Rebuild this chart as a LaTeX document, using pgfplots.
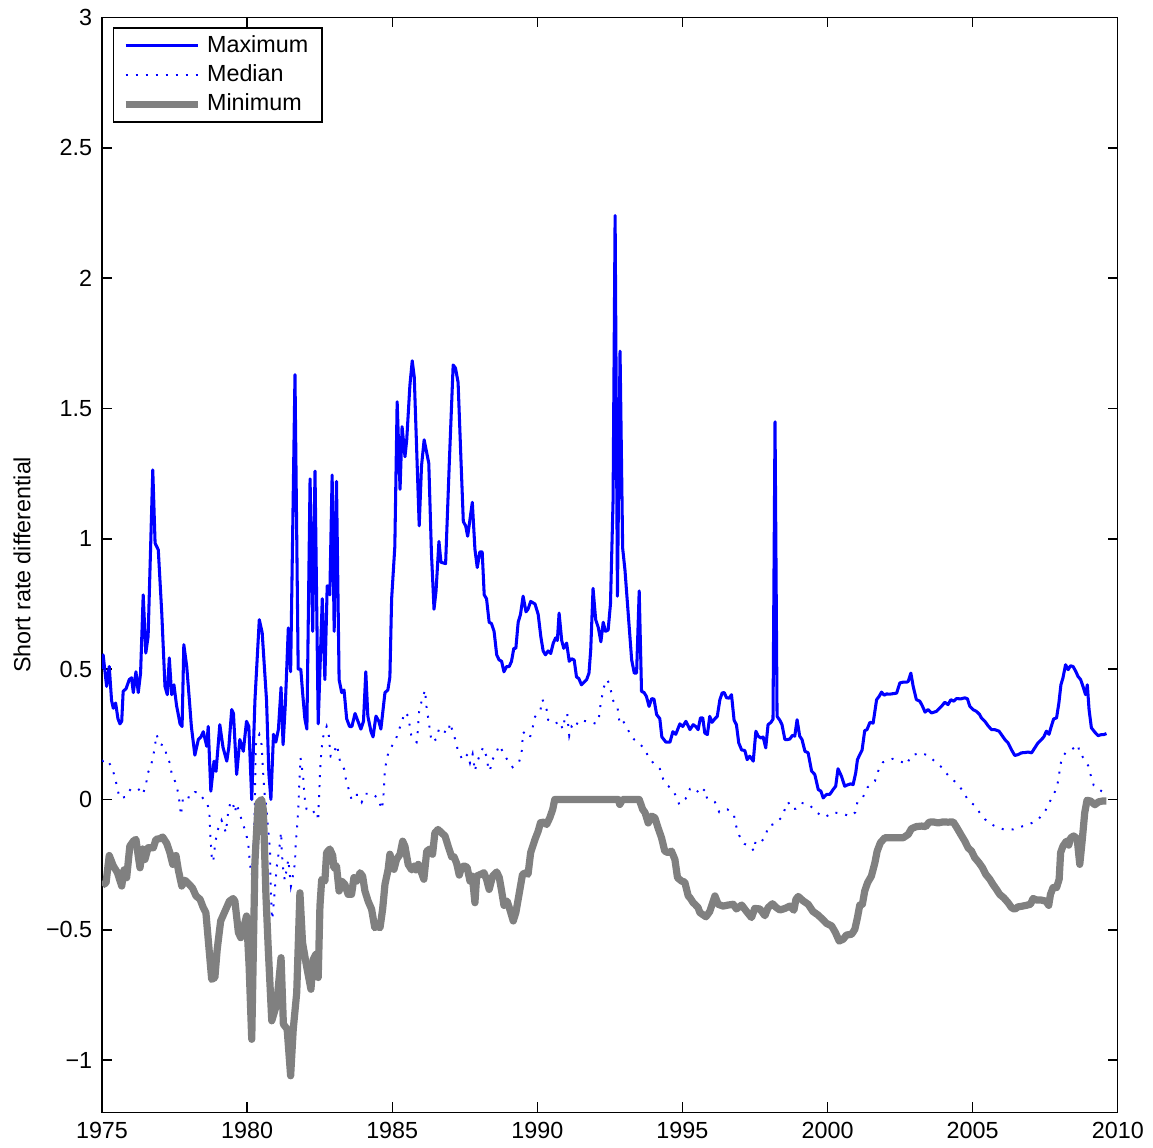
\documentclass[border=0pt]{standalone}
\usepackage{fontspec}
\setmainfont{Liberation Sans}
\usepackage{pgfplots}
\pgfplotsset{compat=1.18}
\definecolor{mblue}{RGB}{0,0,255}
\definecolor{mgray}{RGB}{128,128,128}
\newcommand{\fsz}{\fontsize{8.4}{10}\selectfont}
\begin{document}
\begin{tikzpicture}
\path (-36.72pt,-12.6pt) rectangle (378.36pt,400.32pt);
\begin{axis}[
 at={(0pt,0pt)}, anchor=south west,
 scale only axis, width=365.76pt, height=394.2pt,
 xmin=1975, xmax=2010, ymin=-1.2, ymax=3,
 xtick={1975,1980,1985,1990,1995,2000,2005,2010},
 xticklabels={1975,1980,1985,1990,1995,2000,2005,2010},
 ytick={-1,-0.5,0,0.5,1,1.5,2,2.5,3},
 yticklabels={−1,−0.5,0,0.5,1,1.5,2,2.5,3},
 tick align=inside, tick pos=both,
 major tick length=3.6pt,
 axis line style={line width=0.5pt},
 every tick/.style={black, line width=0.5pt},
 tick label style={font=\fsz},
 ylabel={Short rate differential},
 ylabel style={font=\fsz, at={(axis description cs:-0.0787,0.5)}, anchor=center},
 legend style={at={(axis description cs:0,1)}, anchor=north west, xshift=4pt, yshift=-3.6pt,
   draw=black, line width=0.5pt, fill=white, font=\fsz, inner xsep=3pt, inner ysep=0.6pt,
   row sep=-1.1pt, cells={anchor=west}},
 legend image code/.code={\draw[#1] (0pt,0pt) -- (26pt,0pt);},
]
\addplot[mblue, line width=1.1pt, line join=round] coordinates {
(1975.00,0.50) (1975.04,0.555) (1975.16,0.434) (1975.25,0.51) (1975.33,0.38) (1975.39,0.35) (1975.47,0.37) (1975.55,0.31) (1975.62,0.29) (1975.68,0.30) (1975.73,0.415) (1975.83,0.425) (1975.94,0.46) (1976.02,0.467) (1976.08,0.41) (1976.17,0.49) (1976.25,0.41) (1976.33,0.485) (1976.42,0.785) (1976.51,0.562) (1976.59,0.626) (1976.75,1.264) (1976.83,0.983) (1976.94,0.958) (1977.06,0.715) (1977.17,0.434) (1977.25,0.402) (1977.32,0.543) (1977.40,0.402) (1977.48,0.44) (1977.57,0.36) (1977.64,0.32) (1977.69,0.29) (1977.76,0.28)
(1977.82,0.594) (1977.92,0.51) (1978.01,0.383) (1978.08,0.28) (1978.20,0.17) (1978.32,0.23) (1978.41,0.24) (1978.49,0.26) (1978.61,0.204) (1978.66,0.28) (1978.75,0.032) (1978.86,0.147) (1978.93,0.108) (1979.06,0.287) (1979.17,0.2) (1979.30,0.147) (1979.37,0.2) (1979.47,0.345) (1979.53,0.33) (1979.64,0.096) (1979.75,0.23) (1979.87,0.185) (1979.98,0.30) (1980.06,0.28) (1980.16,0.0) (1980.27,0.38) (1980.42,0.69) (1980.52,0.64) (1980.67,0.38) (1980.75,0.10) (1980.82,0.0) (1980.91,0.25) (1980.99,0.22) (1981.08,0.27) (1981.17,0.43) (1981.24,0.21) (1981.32,0.37) (1981.42,0.658) (1981.50,0.49) (1981.65,1.63) (1981.76,0.50) (1981.85,0.50) (1981.92,0.40) (1981.99,0.31) (1982.06,0.27) (1982.17,1.23) (1982.26,0.645) (1982.34,1.26) (1982.45,0.29) (1982.59,0.77) (1982.68,0.46) (1982.76,0.82) (1982.85,0.785) (1982.93,1.245) (1983.00,0.645) (1983.08,1.22) (1983.17,0.46) (1983.26,0.41) (1983.34,0.42) (1983.43,0.31) (1983.53,0.28) (1983.61,0.28) (1983.72,0.33) (1983.82,0.30) (1983.92,0.27) (1984.01,0.30) (1984.09,0.49) (1984.16,0.32) (1984.27,0.26) (1984.34,0.24) (1984.44,0.32) (1984.54,0.30) (1984.61,0.27) (1984.75,0.41) (1984.85,0.42) (1984.92,0.47) (1984.98,0.77) (1985.09,0.97) (1985.17,1.526) (1985.27,1.19) (1985.34,1.43) (1985.44,1.315) (1985.50,1.38) (1985.61,1.59) (1985.69,1.683) (1985.76,1.62) (1985.93,1.05) (1986.01,1.28) (1986.10,1.38) (1986.26,1.29) (1986.35,0.95) (1986.44,0.73) (1986.51,0.80) (1986.61,0.99) (1986.68,0.91) (1986.84,0.905) (1986.97,1.30) (1987.10,1.667) (1987.18,1.655) (1987.27,1.60) (1987.37,1.30) (1987.45,1.066) (1987.53,1.05) (1987.60,1.01) (1987.76,1.14) (1987.85,0.96) (1987.93,0.89) (1988.02,0.95) (1988.10,0.95) (1988.17,0.785) (1988.25,0.77) (1988.34,0.68) (1988.42,0.675) (1988.51,0.645) (1988.60,0.555) (1988.68,0.536) (1988.77,0.53) (1988.85,0.49) (1988.94,0.51) (1989.03,0.51) (1989.11,0.53) (1989.19,0.58) (1989.26,0.58) (1989.34,0.68) (1989.42,0.71) (1989.51,0.78) (1989.61,0.72) (1989.68,0.73) (1989.77,0.76) (1989.92,0.75) (1990.03,0.71) (1990.12,0.625) (1990.20,0.57) (1990.28,0.555) (1990.37,0.57) (1990.46,0.56) (1990.55,0.60) (1990.63,0.62) (1990.69,0.61) (1990.75,0.715) (1990.84,0.61) (1990.91,0.58) (1991.01,0.60) (1991.10,0.53) (1991.18,0.54) (1991.27,0.535) (1991.35,0.47) (1991.43,0.464) (1991.52,0.44) (1991.61,0.45) (1991.70,0.46) (1991.78,0.485) (1991.84,0.575) (1991.92,0.81) (1992.01,0.69) (1992.10,0.66) (1992.19,0.605) (1992.27,0.68) (1992.35,0.645) (1992.44,0.65) (1992.52,0.75) (1992.61,1.15) (1992.68,2.24) (1992.76,0.78) (1992.85,1.72) (1992.94,0.964) (1993.02,0.88) (1993.13,0.715) (1993.25,0.536) (1993.34,0.485) (1993.42,0.485) (1993.51,0.80) (1993.59,0.415) (1993.68,0.41) (1993.76,0.395) (1993.85,0.357) (1993.94,0.387) (1994.02,0.385) (1994.11,0.326) (1994.22,0.31) (1994.29,0.24) (1994.43,0.22) (1994.57,0.22) (1994.67,0.26) (1994.77,0.25) (1994.91,0.29) (1995.01,0.28) (1995.12,0.30) (1995.26,0.268) (1995.37,0.287) (1995.46,0.28) (1995.54,0.268) (1995.62,0.313) (1995.70,0.313) (1995.77,0.255) (1995.86,0.249) (1995.94,0.319) (1996.02,0.296) (1996.12,0.31) (1996.20,0.319) (1996.29,0.383) (1996.37,0.409) (1996.44,0.41) (1996.52,0.39) (1996.61,0.389) (1996.69,0.402) (1996.78,0.304) (1996.86,0.287) (1996.94,0.217) (1997.04,0.19) (1997.15,0.188) (1997.23,0.153) (1997.32,0.166) (1997.44,0.147) (1997.53,0.262) (1997.61,0.243) (1997.70,0.236) (1997.78,0.24) (1997.87,0.198) (1997.95,0.287) (1998.05,0.296) (1998.12,0.308) (1998.19,1.449) (1998.26,0.319) (1998.36,0.303) (1998.43,0.287) (1998.53,0.23) (1998.62,0.23) (1998.70,0.232) (1998.79,0.246) (1998.87,0.243) (1998.95,0.306) (1999.04,0.243) (1999.12,0.23) (1999.22,0.185) (1999.33,0.179) (1999.45,0.109) (1999.56,0.096) (1999.68,0.038) (1999.77,0.032) (1999.85,0.006) (1999.96,0.019) (2000.08,0.02) (2000.19,0.038) (2000.28,0.051) (2000.36,0.118) (2000.48,0.089) (2000.59,0.051) (2000.71,0.057) (2000.80,0.06) (2000.88,0.057) (2000.97,0.102) (2001.03,0.153) (2001.11,0.172) (2001.19,0.19) (2001.28,0.264) (2001.36,0.268) (2001.46,0.296) (2001.57,0.293) (2001.69,0.383) (2001.78,0.396) (2001.86,0.412) (2001.95,0.40) (2002.03,0.405) (2002.14,0.404) (2002.26,0.406) (2002.38,0.408) (2002.49,0.447) (2002.60,0.45) (2002.72,0.45) (2002.78,0.453) (2002.87,0.485) (2002.95,0.434) (2003.06,0.383) (2003.18,0.377) (2003.27,0.358) (2003.36,0.335) (2003.46,0.345) (2003.58,0.332) (2003.75,0.338) (2003.93,0.358) (2004.04,0.373) (2004.15,0.364) (2004.25,0.383) (2004.35,0.377) (2004.44,0.387) (2004.59,0.386) (2004.73,0.39) (2004.82,0.386) (2004.90,0.358) (2005.01,0.345) (2005.13,0.338) (2005.24,0.326) (2005.30,0.313) (2005.42,0.30) (2005.53,0.283) (2005.65,0.268) (2005.76,0.268) (2005.91,0.262) (2005.99,0.249) (2006.11,0.23) (2006.22,0.217) (2006.34,0.19) (2006.45,0.169) (2006.56,0.172) (2006.68,0.179) (2006.80,0.18) (2006.91,0.182) (2007.03,0.179) (2007.14,0.198) (2007.25,0.217) (2007.37,0.23) (2007.45,0.24) (2007.54,0.262) (2007.63,0.25) (2007.71,0.281) (2007.79,0.309) (2007.89,0.313) (2007.97,0.37) (2008.04,0.44) (2008.11,0.466) (2008.20,0.517) (2008.29,0.498) (2008.37,0.513) (2008.46,0.51) (2008.55,0.492) (2008.63,0.472) (2008.72,0.46) (2008.80,0.434) (2008.89,0.402) (2008.95,0.44) (2009.01,0.345) (2009.09,0.275) (2009.21,0.258) (2009.32,0.245) (2009.44,0.249) (2009.52,0.249) (2009.61,0.253)
};
\addlegendentry{Maximum}
\addplot[mblue, line width=0.7pt, dash pattern=on 0.7pt off 2.9pt] coordinates {
(1975.00,0.15) (1975.04,0.147) (1975.18,0.153) (1975.35,0.121) (1975.45,0.083) (1975.53,0.045) (1975.60,0.006) (1975.73,0.008) (1975.83,0.01) (1975.99,0.041) (1976.25,0.041) (1976.40,0.019) (1976.52,0.055) (1976.56,0.096) (1976.69,0.13) (1976.77,0.169) (1976.83,0.21) (1976.88,0.249) (1977.00,0.213) (1977.17,0.204) (1977.23,0.163) (1977.34,0.14) (1977.40,0.10) (1977.55,0.061) (1977.63,0.022) (1977.69,-0.026) (1977.72,-0.061) (1977.80,0.013) (1977.92,0.01) (1978.06,0.006) (1978.20,0.028) (1978.32,0.028) (1978.49,0.003) (1978.62,-0.01) (1978.70,-0.05) (1978.72,-0.10) (1978.74,-0.15) (1978.78,-0.217) (1978.83,-0.24) (1978.89,-0.18) (1978.95,-0.134) (1979.01,-0.11) (1979.06,-0.096) (1979.12,-0.08) (1979.27,-0.127) (1979.35,-0.045) (1979.44,-0.006) (1979.52,-0.02) (1979.58,-0.05) (1979.64,-0.017) (1979.85,-0.092) (1979.96,-0.128) (1980.04,-0.17) (1980.10,-0.249) (1980.16,-0.291) (1980.21,-0.208) (1980.25,-0.1) (1980.27,0.0) (1980.29,0.14) (1980.31,0.223) (1980.42,0.249) (1980.50,0.21) (1980.56,0.09) (1980.61,0.01) (1980.67,-0.032) (1980.72,-0.109) (1980.79,-0.19) (1980.80,-0.27) (1980.82,-0.352) (1980.85,-0.44) (1980.87,-0.46) (1980.96,-0.34) (1981.02,-0.26) (1981.13,-0.17) (1981.17,-0.125) (1981.20,-0.21) (1981.25,-0.278) (1981.30,-0.31) (1981.36,-0.27) (1981.42,-0.23) (1981.51,-0.332) (1981.59,-0.286) (1981.65,-0.243) (1981.68,-0.16) (1981.71,-0.125) (1981.76,-0.042) (1981.79,0.038) (1981.82,0.115) (1981.84,0.16) (1981.93,0.09) (1981.96,0.041) (1981.99,0.0) (1982.05,-0.038) (1982.22,-0.054) (1982.40,-0.04) (1982.45,-0.083) (1982.47,-0.01) (1982.49,0.038) (1982.52,0.12) (1982.54,0.156) (1982.57,0.198) (1982.62,0.24) (1982.74,0.28) (1982.82,0.243) (1982.85,0.2) (1982.88,0.165) (1982.97,0.169) (1983.08,0.21) (1983.13,0.19) (1983.20,0.147) (1983.35,0.115) (1983.41,0.074) (1983.51,0.036) (1983.60,0.0) (1983.68,0.018) (1983.83,0.018) (1983.95,-0.01) (1984.06,0.022) (1984.33,0.022) (1984.52,0.003) (1984.64,-0.038) (1984.69,0.0) (1984.71,0.038) (1984.75,0.115) (1984.81,0.153) (1984.89,0.19) (1985.09,0.22) (1985.21,0.258) (1985.32,0.296) (1985.44,0.335) (1985.55,0.32) (1985.67,0.236) (1985.84,0.22) (1985.88,0.26) (1985.93,0.345) (1986.13,0.42) (1986.19,0.345) (1986.26,0.30) (1986.30,0.262) (1986.36,0.22) (1986.53,0.232) (1986.62,0.275) (1986.76,0.262) (1986.93,0.255) (1986.99,0.294) (1987.18,0.227) (1987.27,0.185) (1987.43,0.151) (1987.60,0.174) (1987.68,0.14) (1987.77,0.174) (1987.85,0.109) (1987.91,0.14) (1988.02,0.17) (1988.13,0.2) (1988.25,0.165) (1988.31,0.121) (1988.37,0.109) (1988.42,0.146) (1988.57,0.176) (1988.69,0.208) (1988.80,0.185) (1988.94,0.157) (1989.15,0.124) (1989.37,0.143) (1989.46,0.181) (1989.51,0.259) (1989.74,0.236) (1989.84,0.277) (1989.92,0.317) (1990.11,0.345) (1990.18,0.383) (1990.32,0.345) (1990.37,0.306) (1990.49,0.30) (1990.60,0.29) (1990.78,0.30) (1990.87,0.27) (1990.95,0.31) (1991.03,0.33) (1991.06,0.29) (1991.10,0.245) (1991.18,0.28) (1991.27,0.27) (1991.43,0.304) (1991.70,0.30) (1991.81,0.30) (1992.02,0.29) (1992.13,0.32) (1992.18,0.367) (1992.29,0.43) (1992.40,0.46) (1992.50,0.44) (1992.59,0.383) (1992.76,0.355) (1992.84,0.29) (1992.96,0.30) (1993.11,0.271) (1993.22,0.245) (1993.34,0.23) (1993.47,0.22) (1993.70,0.194) (1993.84,0.16) (1994.02,0.137) (1994.22,0.118) (1994.34,0.077) (1994.49,0.054) (1994.68,0.034) (1994.82,0.003) (1994.89,-0.019) (1995.11,0.003) (1995.26,0.041) (1995.43,0.045) (1995.60,0.019) (1995.77,0.04) (1995.85,0.003) (1996.12,-0.01) (1996.27,-0.049) (1996.55,-0.038) (1996.77,-0.057) (1996.84,-0.098) (1996.95,-0.137) (1997.13,-0.17) (1997.36,-0.181) (1997.46,-0.198) (1997.52,-0.16) (1997.70,-0.165) (1997.87,-0.14) (1997.95,-0.102) (1998.22,-0.092) (1998.45,-0.064) (1998.56,-0.026) (1998.64,-0.01) (1998.79,-0.038) (1998.91,-0.035) (1999.10,-0.013) (1999.36,-0.019) (1999.60,-0.047) (1999.83,-0.066) (1999.94,-0.066) (2000.19,-0.049) (2000.50,-0.055) (2000.80,-0.064) (2000.96,-0.049) (2001.03,-0.009) (2001.22,0.009) (2001.38,0.047) (2001.63,0.07) (2001.74,0.108) (2001.91,0.143) (2002.24,0.156) (2002.46,0.15) (2002.72,0.134) (2002.89,0.169) (2003.21,0.179) (2003.46,0.169) (2003.73,0.143) (2003.96,0.121) (2004.19,0.087) (2004.44,0.064) (2004.67,0.032) (2004.84,-0.003) (2005.07,-0.023) (2005.28,-0.057) (2005.53,-0.089) (2005.82,-0.105) (2006.07,-0.115) (2006.39,-0.115) (2006.65,-0.105) (2006.94,-0.096) (2007.25,-0.077) (2007.48,-0.049) (2007.63,-0.013) (2007.77,0.013) (2007.89,0.045) (2007.97,0.083) (2008.00,0.121) (2008.08,0.16) (2008.20,0.179) (2008.37,0.188) (2008.63,0.21) (2008.69,0.172) (2008.77,0.167) (2008.98,0.13) (2009.06,0.096) (2009.17,0.054) (2009.44,0.032) (2009.61,0.02)
};
\addlegendentry{Median}
\addplot[mgray, line width=2.6pt, line join=round] coordinates {
(1975.00,-0.33) (1975.04,-0.326) (1975.14,-0.32) (1975.25,-0.215) (1975.39,-0.255) (1975.53,-0.28) (1975.68,-0.332) (1975.76,-0.27) (1975.85,-0.30) (1975.96,-0.179) (1976.08,-0.16) (1976.17,-0.153) (1976.25,-0.217) (1976.31,-0.262) (1976.40,-0.19) (1976.48,-0.23) (1976.59,-0.185) (1976.77,-0.185) (1976.86,-0.153) (1977.00,-0.15) (1977.09,-0.144) (1977.23,-0.168) (1977.34,-0.204) (1977.44,-0.249) (1977.55,-0.215) (1977.63,-0.27) (1977.75,-0.332) (1977.86,-0.31) (1978.01,-0.326) (1978.12,-0.34) (1978.24,-0.37) (1978.38,-0.383) (1978.49,-0.415) (1978.58,-0.434) (1978.66,-0.536) (1978.78,-0.69) (1978.89,-0.683) (1978.97,-0.575) (1979.04,-0.511) (1979.09,-0.466) (1979.24,-0.428) (1979.39,-0.39) (1979.52,-0.38) (1979.58,-0.39) (1979.70,-0.51) (1979.78,-0.53) (1979.87,-0.498) (1979.98,-0.447) (1980.07,-0.64) (1980.16,-0.92) (1980.27,-0.24) (1980.38,-0.013) (1980.50,0.0) (1980.56,-0.04) (1980.65,-0.37) (1980.73,-0.575) (1980.85,-0.849) (1981.02,-0.785) (1981.17,-0.607) (1981.25,-0.862) (1981.38,-0.881) (1981.50,-1.06) (1981.59,-0.881) (1981.71,-0.741) (1981.82,-0.358) (1981.91,-0.549) (1982.05,-0.64) (1982.20,-0.728) (1982.28,-0.613) (1982.37,-0.594) (1982.45,-0.683) (1982.51,-0.409) (1982.57,-0.307) (1982.68,-0.313) (1982.74,-0.204) (1982.85,-0.19) (1982.95,-0.215) (1982.99,-0.262) (1983.08,-0.255) (1983.17,-0.351) (1983.26,-0.313) (1983.37,-0.326) (1983.48,-0.364) (1983.60,-0.364) (1983.68,-0.30) (1983.79,-0.313) (1983.89,-0.281) (1983.98,-0.294) (1984.06,-0.351) (1984.17,-0.39) (1984.29,-0.421) (1984.40,-0.492) (1984.48,-0.485) (1984.58,-0.492) (1984.67,-0.421) (1984.75,-0.326) (1984.86,-0.268) (1984.92,-0.21) (1985.06,-0.268) (1985.15,-0.23) (1985.27,-0.21) (1985.36,-0.16) (1985.44,-0.18) (1985.55,-0.249) (1985.67,-0.27) (1985.75,-0.255) (1985.82,-0.27) (1985.90,-0.249) (1986.01,-0.281) (1986.09,-0.306) (1986.19,-0.198) (1986.30,-0.19) (1986.39,-0.21) (1986.47,-0.128) (1986.58,-0.115) (1986.70,-0.128) (1986.82,-0.14) (1986.93,-0.18) (1987.05,-0.22) (1987.13,-0.22) (1987.22,-0.245) (1987.31,-0.29) (1987.39,-0.26) (1987.48,-0.255) (1987.58,-0.26) (1987.68,-0.313) (1987.76,-0.294) (1987.85,-0.396) (1987.91,-0.294) (1988.05,-0.287) (1988.16,-0.281) (1988.25,-0.306) (1988.34,-0.345) (1988.46,-0.294) (1988.60,-0.278) (1988.69,-0.30) (1988.77,-0.351) (1988.85,-0.406) (1988.96,-0.39) (1989.05,-0.421) (1989.17,-0.466) (1989.26,-0.434) (1989.37,-0.364) (1989.49,-0.287) (1989.61,-0.281) (1989.68,-0.287) (1989.77,-0.204) (1989.84,-0.18) (1989.92,-0.153) (1990.03,-0.121) (1990.11,-0.089) (1990.23,-0.087) (1990.32,-0.096) (1990.43,-0.07) (1990.53,-0.038) (1990.60,0.0) (1990.95,0.0) (1992.79,0.0) (1992.84,-0.019) (1992.94,0.0) (1993.51,0.0) (1993.63,-0.038) (1993.71,-0.05) (1993.82,-0.09) (1993.94,-0.064) (1994.05,-0.07) (1994.16,-0.109) (1994.28,-0.147) (1994.39,-0.198) (1994.51,-0.204) (1994.62,-0.198) (1994.74,-0.23) (1994.83,-0.30) (1994.97,-0.313) (1995.08,-0.317) (1995.20,-0.37) (1995.26,-0.377) (1995.37,-0.396) (1995.43,-0.402) (1995.54,-0.415) (1995.60,-0.434) (1995.81,-0.45) (1995.94,-0.43) (1996.12,-0.37) (1996.23,-0.402) (1996.40,-0.409) (1996.57,-0.405) (1996.75,-0.402) (1996.86,-0.42) (1997.04,-0.405) (1997.21,-0.43) (1997.38,-0.453) (1997.49,-0.418) (1997.67,-0.42) (1997.84,-0.446) (1997.95,-0.415) (1998.10,-0.40) (1998.24,-0.415) (1998.36,-0.424) (1998.53,-0.418) (1998.70,-0.409) (1998.84,-0.425) (1998.91,-0.383) (1998.99,-0.372) (1999.16,-0.389) (1999.33,-0.402) (1999.50,-0.43) (1999.67,-0.443) (1999.83,-0.46) (1999.96,-0.475) (2000.14,-0.485) (2000.27,-0.51) (2000.40,-0.543) (2000.54,-0.536) (2000.65,-0.52) (2000.83,-0.517) (2000.94,-0.498) (2001.03,-0.453) (2001.11,-0.405) (2001.20,-0.402) (2001.28,-0.351) (2001.38,-0.319) (2001.51,-0.294) (2001.63,-0.243) (2001.71,-0.198) (2001.82,-0.166) (2001.97,-0.147) (2002.26,-0.147) (2002.60,-0.147) (2002.78,-0.134) (2002.89,-0.112) (2003.06,-0.104) (2003.24,-0.102) (2003.38,-0.104) (2003.50,-0.087) (2003.64,-0.086) (2003.81,-0.09) (2003.98,-0.086) (2004.15,-0.087) (2004.33,-0.086) (2004.46,-0.109) (2004.59,-0.134) (2004.73,-0.16) (2004.84,-0.185) (2004.96,-0.198) (2005.07,-0.223) (2005.22,-0.243) (2005.34,-0.262) (2005.45,-0.287) (2005.59,-0.306) (2005.70,-0.326) (2005.82,-0.345) (2005.93,-0.364) (2006.07,-0.377) (2006.22,-0.396) (2006.34,-0.415) (2006.45,-0.421) (2006.56,-0.412) (2006.72,-0.409) (2006.85,-0.406) (2006.99,-0.402) (2007.08,-0.38) (2007.22,-0.386) (2007.37,-0.386) (2007.52,-0.39) (2007.62,-0.406) (2007.68,-0.364) (2007.77,-0.338) (2007.89,-0.338) (2007.98,-0.306) (2008.03,-0.204) (2008.11,-0.179) (2008.23,-0.16) (2008.31,-0.175) (2008.38,-0.147) (2008.48,-0.14) (2008.60,-0.15) (2008.69,-0.249) (2008.78,-0.15) (2008.86,-0.051) (2008.94,-0.003) (2009.06,-0.006) (2009.21,-0.02) (2009.34,-0.009) (2009.47,-0.006) (2009.61,-0.006)
};
\addlegendentry{Minimum}
\end{axis}
\end{tikzpicture}
\end{document}
